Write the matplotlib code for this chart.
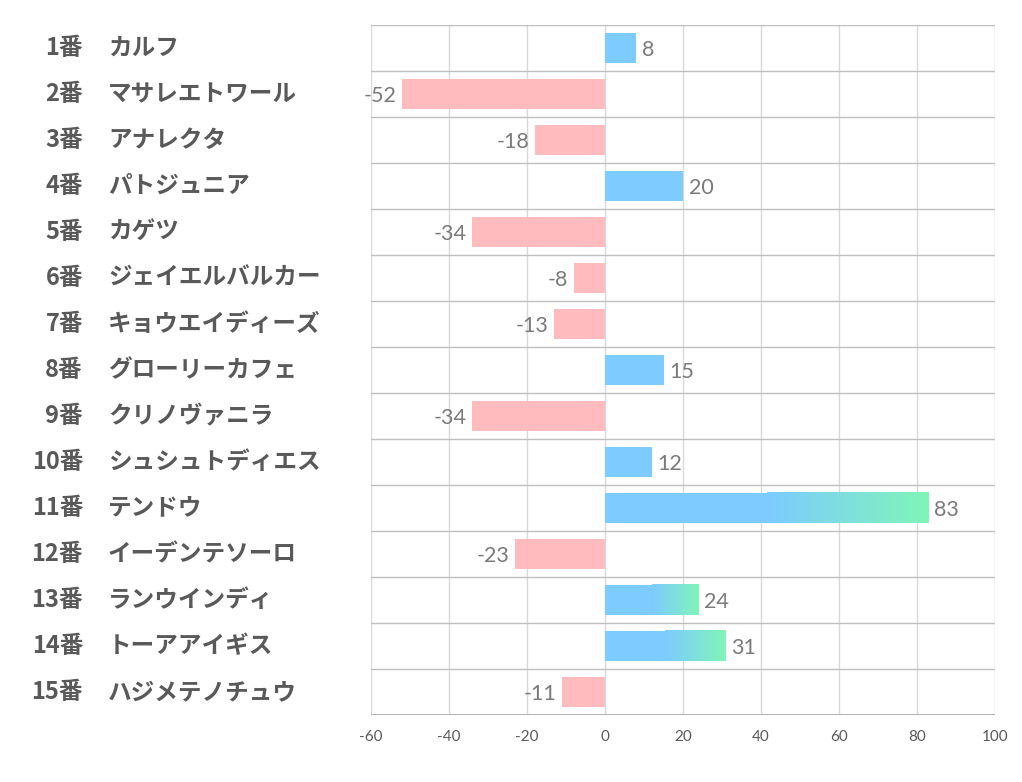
import matplotlib
matplotlib.use("Agg")
import matplotlib.pyplot as plt
import numpy as np
from matplotlib.colors import LinearSegmentedColormap

numbers = ["1番", "2番", "3番", "4番", "5番", "6番", "7番", "8番", "9番", "10番",
           "11番", "12番", "13番", "14番", "15番"]
names = ["カルフ", "マサレエトワール", "アナレクタ", "パトジュニア", "カゲツ",
         "ジェイエルバルカー", "キョウエイディーズ", "グローリーカフェ", "クリノヴァニラ",
         "シュシュトディエス", "テンドウ", "イーデンテソーロ", "ランウインディ",
         "トーアアイギス", "ハジメテノチュウ"]
values = [8, -52, -18, 20, -34, -8, -13, 15, -34, 12, 83, -23, 24, 31, -11]
gradient = [False, False, False, False, False, False, False, False, False, False,
            True, False, True, True, False]
xticks = [-60, -40, -20, 0, 20, 40, 60, 80, 100]

BLUE = "#7dcbff"
PINK = "#ffbbbe"
GREEN = "#80f5b8"
cmap = LinearSegmentedColormap.from_list("bg", [BLUE, GREEN])

jp = ["Noto Sans CJK JP", "DejaVu Sans"]
num_font = ["Lato", "DejaVu Sans"]

fig = plt.figure(figsize=(10.22, 7.82), dpi=100)
ax = fig.add_axes([371 / 1022, 1 - 715 / 782, (995 - 371) / 1022, (715 - 25) / 782])

n = len(values)
ys = np.arange(n)
h = 0.66
colors = [BLUE if v >= 0 else PINK for v in values]
ax.barh(ys, values, height=h, color=colors, zorder=3)

grad = np.linspace(0, 1, 256).reshape(1, -1)
for y, v, g in zip(ys, values, gradient):
    if g:
        ax.imshow(grad, cmap=cmap, extent=(v / 2, v, y + h / 2, y - h / 2),
                  aspect="auto", zorder=4, interpolation="bilinear")

ax.set_xlim(-60, 100)
ax.set_ylim(n - 0.5, -0.5)

for x in xticks:
    ax.axvline(x, color="#d9d9d9", lw=1, zorder=1)
for k in range(n + 1):
    ax.axhline(k - 0.5, color="#bfbfbf", lw=1, zorder=2)
ax.axhline(n - 0.5, color="#a6a6a6", lw=1.2, zorder=5)

for s in ax.spines.values():
    s.set_visible(False)

ax.set_yticks([])
ax.set_xticks(xticks)
ax.set_xticklabels([str(t) for t in xticks], family=num_font, fontsize=11, color="#595959")
ax.tick_params(axis="x", length=0, pad=11)

for y, v in zip(ys, values):
    if v >= 0:
        ax.annotate(str(v), (v, y), xytext=(4, -1.5), textcoords="offset points",
                    ha="left", va="center", fontsize=15.5, color="#7a7a7a", family=num_font)
    else:
        ax.annotate(str(v), (v, y), xytext=(-4, -1.5), textcoords="offset points",
                    ha="right", va="center", fontsize=15.5, color="#7a7a7a", family=num_font)

for y, num, name in zip(ys, numbers, names):
    yf = 1 - (25 + 46 * (y + 0.5)) / 782
    fig.text(83 / 1022, yf, num, ha="right", va="center", fontsize=17,
             fontweight="bold", color="#595959", family=jp)
    fig.text(108 / 1022, yf, name, ha="left", va="center", fontsize=17,
             fontweight="bold", color="#595959", family=jp)

fig.savefig("out.png", dpi=100, facecolor="white")
